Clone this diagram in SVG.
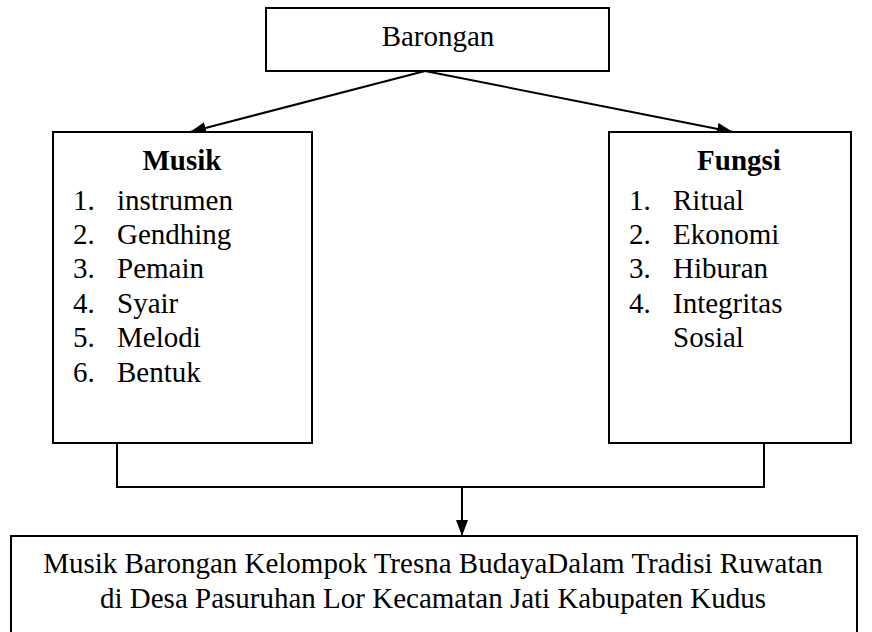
<svg xmlns="http://www.w3.org/2000/svg" width="872" height="632" viewBox="0 0 872 632">
<style>
.box{fill:#fff;stroke:#000;stroke-width:2}
text{font-family:'Liberation Serif','Times New Roman','DejaVu Serif',serif;font-size:29px;fill:#000}
.b{font-weight:bold}
.m{text-anchor:middle}
.c{fill:none;stroke:#000;stroke-width:2}
</style>
<defs>
<marker id="ah" viewBox="0 0 16 12" refX="16" refY="6" markerWidth="16" markerHeight="12" markerUnits="userSpaceOnUse" orient="auto">
<path d="M0,0 L16,6 L0,12 Z" fill="#000"/>
</marker>
</defs>
<rect width="872" height="632" fill="#fff"/>
<g id="connectors">
<path class="c" d="M425,71 L190,132" marker-end="url(#ah)"/>
<path class="c" d="M425,71 L733,132" marker-end="url(#ah)"/>
<path class="c" d="M117,443 V487 H764 V443"/>
<path class="c" d="M462,487 V536" marker-end="url(#ah)"/>
</g>
<g font-family="Liberation Serif, Times New Roman, serif" font-size="29">
<g id="barongan">
<rect class="box" x="266" y="8" width="343" height="63"/>
<text class="m" x="438" y="46">Barongan</text>
</g>
<g id="musik">
<rect class="box" x="53" y="132" width="259" height="311"/>
<text class="b m" x="182" y="170">Musik</text>
<text x="73" y="210">1.</text><text x="117" y="210">instrumen</text>
<text x="73" y="244">2.</text><text x="117" y="244">Gendhing</text>
<text x="73" y="278">3.</text><text x="117" y="278">Pemain</text>
<text x="73" y="313">4.</text><text x="117" y="313">Syair</text>
<text x="73" y="347">5.</text><text x="117" y="347">Melodi</text>
<text x="73" y="382">6.</text><text x="117" y="382">Bentuk</text>
</g>
<g id="fungsi">
<rect class="box" x="609" y="132" width="242" height="311"/>
<text class="b m" x="739" y="170">Fungsi</text>
<text x="629" y="210">1.</text><text x="673" y="210">Ritual</text>
<text x="629" y="244">2.</text><text x="673" y="244">Ekonomi</text>
<text x="629" y="278">3.</text><text x="673" y="278">Hiburan</text>
<text x="629" y="313">4.</text><text x="673" y="313">Integritas</text>
<text x="673" y="347">Sosial</text>
</g>
<g id="result">
<rect class="box" x="11" y="536" width="846" height="110"/>
<text class="m" x="433" y="573">Musik Barongan Kelompok Tresna BudayaDalam Tradisi Ruwatan</text>
<text class="m" x="433" y="608">di Desa Pasuruhan Lor Kecamatan Jati Kabupaten Kudus</text>
</g>
</g>
</svg>
